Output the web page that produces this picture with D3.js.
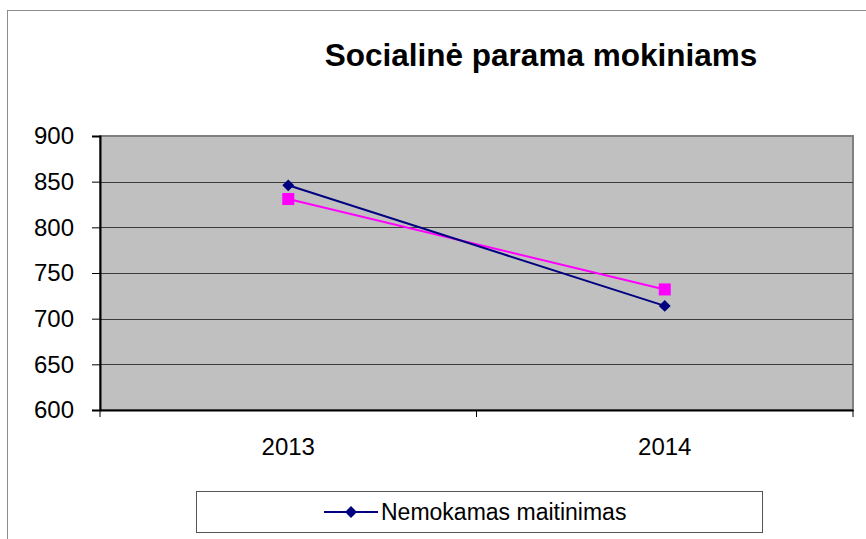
<!DOCTYPE html>
<html>
<head>
<meta charset="utf-8">
<script src="https://cdn.jsdelivr.net/npm/d3@7"></script>
<style>
  body { margin: 0; background: #fff; }
  text { font-family: "Liberation Sans", Arial, sans-serif; }
</style>
</head>
<body>
<div id="chart"></div>
<script>
// width and height
var w = 866;
var h = 539;

var title = "Socialinė parama mokiniams";
var years = ["2013", "2014"];
var yTicks = [600, 650, 700, 750, 800, 850, 900];
var maitinimas = [846, 714];   // navy, diamonds
var kitaParama = [831, 732];   // magenta, squares
var legendLabel = "Nemokamas maitinimas";

// plot area
var plotL = 100, plotR = 853, plotT = 136, plotB = 410;

var svg = d3.select("#chart")
  .append("svg")
  .attr("width", w)
  .attr("height", h);

// outer chart border
svg.append("rect")
  .attr("x", 7.5)
  .attr("y", 10.5)
  .attr("width", 900)
  .attr("height", 600)
  .attr("fill", "#fff")
  .attr("stroke", "#8c8c8c")
  .attr("stroke-width", 1);

var x = d3.scaleBand()
  .domain(years)
  .range([plotL, plotR]);

var y = d3.scaleLinear()
  .domain([600, 900])
  .range([plotB, plotT]);

// plot background
svg.append("rect")
  .attr("x", plotL)
  .attr("y", plotT)
  .attr("width", plotR - plotL)
  .attr("height", plotB - plotT)
  .attr("fill", "#c0c0c0")
  .attr("stroke", "#808080")
  .attr("stroke-width", 2);

// gridlines
svg.selectAll("line.grid")
  .data(yTicks.slice(1, -1))
  .enter()
  .append("line")
  .attr("class", "grid")
  .attr("x1", plotL)
  .attr("x2", plotR)
  .attr("y1", function(d) { return Math.round(y(d)) + 0.5; })
  .attr("y2", function(d) { return Math.round(y(d)) + 0.5; })
  .attr("stroke", "#3c3c3c")
  .attr("stroke-width", 1);

// y axis
var yAxis = svg.append("g")
  .attr("transform", "translate(" + plotL + ",0)")
  .call(d3.axisLeft(y).tickValues(yTicks).tickSize(8).tickPadding(18));
yAxis.select(".domain").attr("stroke", "#000").attr("stroke-width", 2);
yAxis.selectAll(".tick line").attr("stroke", "#000");
yAxis.selectAll("text")
  .attr("font-size", "24px")
  .attr("fill", "#000")
  .attr("font-family", "Liberation Sans, Arial, sans-serif");

// x axis
var xAxis = svg.append("g")
  .attr("transform", "translate(0," + plotB + ")")
  .call(d3.axisBottom(x).tickSize(0).tickPadding(28));
xAxis.select(".domain").attr("stroke", "#000").attr("stroke-width", 2);
xAxis.selectAll("text")
  .attr("font-size", "24px")
  .attr("fill", "#000")
  .attr("font-family", "Liberation Sans, Arial, sans-serif");

// x ticks between categories
var xEdges = [plotL].concat(years.map(function(d) { return x(d) + x.bandwidth(); }));
svg.selectAll("line.xtick")
  .data(xEdges)
  .enter()
  .append("line")
  .attr("class", "xtick")
  .attr("x1", function(d) { return d; })
  .attr("x2", function(d) { return d; })
  .attr("y1", plotB)
  .attr("y2", plotB + 7)
  .attr("stroke", "#000");

function cx(d, i) { return x(years[i]) + x.bandwidth() / 2; }

var line = d3.line()
  .x(function(d, i) { return cx(d, i); })
  .y(function(d) { return y(d); });

// magenta series
svg.append("path")
  .datum(kitaParama)
  .attr("d", line)
  .attr("fill", "none")
  .attr("stroke", "#ff00ff")
  .attr("stroke-width", 2);

svg.selectAll("rect.sq")
  .data(kitaParama)
  .enter()
  .append("rect")
  .attr("class", "sq")
  .attr("x", function(d, i) { return cx(d, i) - 6; })
  .attr("y", function(d) { return y(d) - 6; })
  .attr("width", 12)
  .attr("height", 12)
  .attr("fill", "#ff00ff");

// navy series
svg.append("path")
  .datum(maitinimas)
  .attr("d", line)
  .attr("fill", "none")
  .attr("stroke", "#000080")
  .attr("stroke-width", 2);

var diamond = d3.symbol().type(d3.symbolDiamond2).size(90);
svg.selectAll("path.dm")
  .data(maitinimas)
  .enter()
  .append("path")
  .attr("class", "dm")
  .attr("d", diamond)
  .attr("transform", function(d, i) { return "translate(" + cx(d, i) + "," + y(d) + ")"; })
  .attr("fill", "#000080");

// title
svg.append("text")
  .attr("x", 541)
  .attr("y", 66)
  .attr("text-anchor", "middle")
  .attr("font-size", "31.5px")
  .attr("font-weight", "bold")
  .text(title);

// legend
svg.append("rect")
  .attr("x", 196.5)
  .attr("y", 491.5)
  .attr("width", 566)
  .attr("height", 41)
  .attr("fill", "#fff")
  .attr("stroke", "#555")
  .attr("stroke-width", 1);

svg.append("line")
  .attr("x1", 324)
  .attr("x2", 378)
  .attr("y1", 512)
  .attr("y2", 512)
  .attr("stroke", "#000080")
  .attr("stroke-width", 2);

svg.append("path")
  .attr("d", diamond)
  .attr("transform", "translate(351,512)")
  .attr("fill", "#000080");

svg.append("text")
  .attr("x", 381)
  .attr("y", 520)
  .attr("font-size", "23px")
  .attr("fill", "#000")
  .text(legendLabel);
</script>
</body>
</html>
